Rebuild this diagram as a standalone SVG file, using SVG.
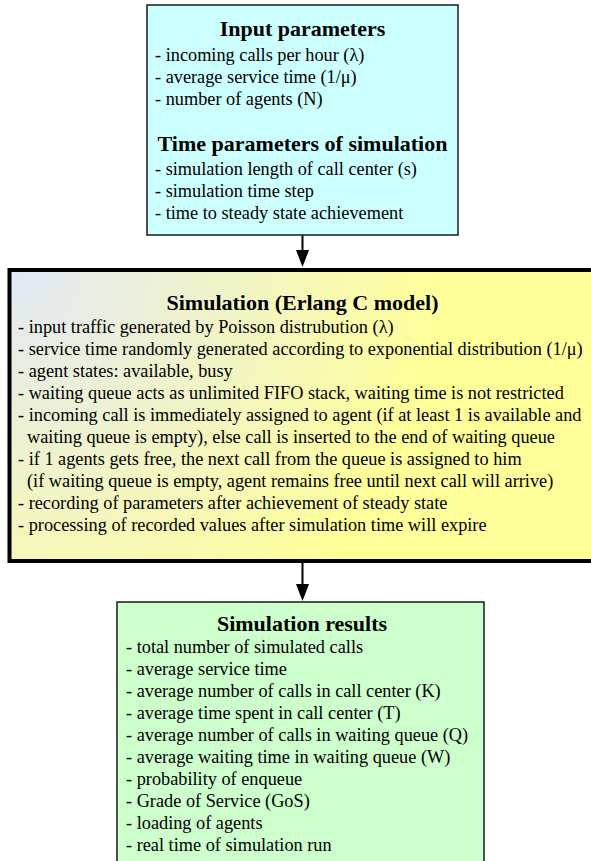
<svg xmlns="http://www.w3.org/2000/svg" width="591" height="861" viewBox="0 0 591 861">
<defs>
<style>
.t{font-family:"Liberation Serif","Times New Roman",serif;font-size:22px;font-weight:bold;fill:#000;text-anchor:middle}
.b{font-family:"Liberation Serif","Times New Roman",serif;font-size:18.3px;fill:#000}
.box{stroke:#1a1a1a;stroke-width:1.5}
.conn{stroke:#000;stroke-width:2;fill:none}
</style>
<radialGradient id="g" gradientUnits="userSpaceOnUse" cx="10" cy="270" r="430">
<stop offset="0" stop-color="#e2e8f6"/>
<stop offset="1" stop-color="#ffff99"/>
</radialGradient>
</defs>
<g id="input">
<rect class="box" x="147" y="5" width="311" height="230" fill="#ccffff"/>
<text class="t" x="302.5" y="36">Input parameters</text>
<text class="b" x="155" y="61">- incoming calls per hour (λ)</text>
<text class="b" x="155" y="83">- average service time (1/μ)</text>
<text class="b" x="155" y="105">- number of agents (N)</text>
<text class="t" x="302.5" y="151">Time parameters of simulation</text>
<text class="b" x="155" y="175">- simulation length of call center (s)</text>
<text class="b" x="155" y="197">- simulation time step</text>
<text class="b" x="155" y="219">- time to steady state achievement</text>
</g>
<g id="simulation">
<rect x="9.5" y="270" width="600" height="291" fill="url(#g)" stroke="#000" stroke-width="4"/>
<text class="t" x="302.5" y="310">Simulation (Erlang C model)</text>
<text class="b" x="18" y="333">- input traffic generated by Poisson distrubution (λ)</text>
<text class="b" x="18" y="355">- service time randomly generated according to exponential distribution (1/μ)</text>
<text class="b" x="18" y="377">- agent states: available, busy</text>
<text class="b" x="18" y="399">- waiting queue acts as unlimited FIFO stack, waiting time is not restricted</text>
<text class="b" x="18" y="421">- incoming call is immediately assigned to agent (if at least 1 is available and</text>
<text class="b" x="27" y="443">waiting queue is empty), else call is inserted to the end of waiting queue</text>
<text class="b" x="18" y="465">- if 1 agents gets free, the next call from the queue is assigned to him</text>
<text class="b" x="27" y="487">(if waiting queue is empty, agent remains free until next call will arrive)</text>
<text class="b" x="18" y="509">- recording of parameters after achievement of steady state</text>
<text class="b" x="18" y="531">- processing of recorded values after simulation time will expire</text>
</g>
<g id="results">
<rect class="box" x="117" y="602" width="367" height="280" fill="#ccffcc"/>
<text class="t" x="302" y="631">Simulation results</text>
<text class="b" x="126" y="653">- total number of simulated calls</text>
<text class="b" x="126" y="675">- average service time</text>
<text class="b" x="126" y="697">- average number of calls in call center (K)</text>
<text class="b" x="126" y="719">- average time spent in call center (T)</text>
<text class="b" x="126" y="741">- average number of calls in waiting queue (Q)</text>
<text class="b" x="126" y="763">- average waiting time in waiting queue (W)</text>
<text class="b" x="126" y="785">- probability of enqueue</text>
<text class="b" x="126" y="807">- Grade of Service (GoS)</text>
<text class="b" x="126" y="829">- loading of agents</text>
<text class="b" x="126" y="851">- real time of simulation run</text>
</g>
<g id="connectors">
<line class="conn" x1="302.5" y1="235.5" x2="302.5" y2="252"/>
<polygon points="296,250 309,250 302.5,267" fill="#000"/>
<line class="conn" x1="302.5" y1="563" x2="302.5" y2="586"/>
<polygon points="296,584 309,584 302.5,601" fill="#000"/>
</g>
</svg>
